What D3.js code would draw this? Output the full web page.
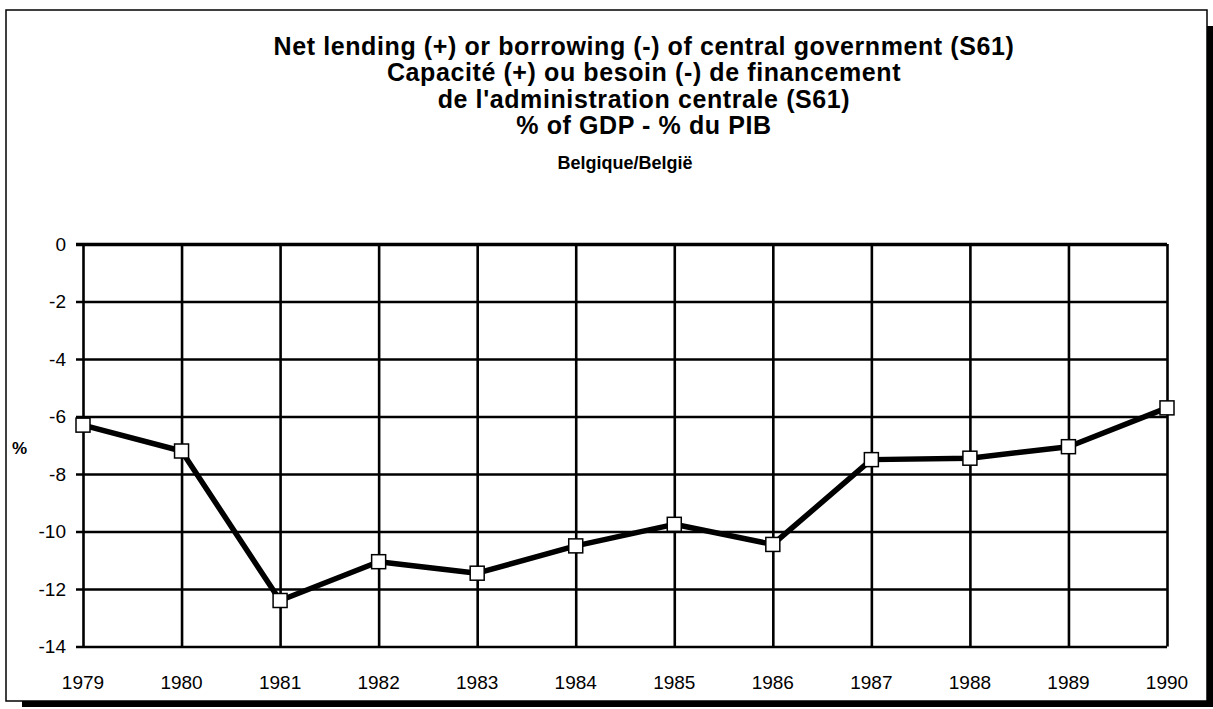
<!DOCTYPE html>
<html>
<head>
<meta charset="utf-8">
<script src="https://cdn.jsdelivr.net/npm/d3@7"></script>
<style>
  body { margin: 0; background: #fff; }
  text { font-family: "Liberation Sans", Arial, sans-serif; fill: #000; }
</style>
</head>
<body>
<div class="chart-container"></div>
<script>
const years = [1979, 1980, 1981, 1982, 1983, 1984, 1985, 1986, 1987, 1988, 1989, 1990];
const values = [-6.3, -7.2, -12.4, -11.05, -11.45, -10.5, -9.75, -10.45, -7.5, -7.45, -7.05, -5.7];
const yTicks = [0, -2, -4, -6, -8, -10, -12, -14];
const titleLines = [
    "Net lending (+) or borrowing (-) of central government (S61)",
    "Capacité (+) ou besoin (-) de financement",
    "de l'administration centrale (S61)",
    "% of GDP - % du PIB"
];
const subtitle = "Belgique/België";

const W = 1213, H = 709;
const plot = { left: 83, right: 1167, top: 244, bottom: 646.5 };

const svg = d3.select('.chart-container')
    .append('svg')
    .attr('width', W)
    .attr('height', H);

// frame with drop shadow
svg.append('rect')
    .attr('x', 22).attr('y', 26)
    .attr('width', 1213 - 22).attr('height', 707 - 26)
    .attr('fill', '#000');
svg.append('rect')
    .attr('x', 6).attr('y', 10)
    .attr('width', 1207 - 6).attr('height', 701 - 10)
    .attr('fill', '#fff')
    .attr('stroke', '#000')
    .attr('stroke-width', 1.5);

// scales
const xScale = d3.scalePoint()
    .domain(years)
    .range([plot.left, plot.right]);

const yScale = d3.scaleLinear()
    .domain([-14, 0])
    .range([plot.bottom, plot.top]);

// horizontal gridlines + ticks on the left
svg.append('g')
    .attr('class', 'grid')
    .attr('transform', `translate(${plot.left}, 0)`)
    .call(d3.axisLeft(yScale)
        .tickValues(yTicks)
        .tickSize(-(plot.right - plot.left))
        .tickFormat(''))
    .call(g => g.select('.domain').remove())
    .call(g => g.selectAll('line')
        .attr('stroke', '#000')
        .attr('stroke-width', d => d === 0 ? 3.5 : 2.4)
        .attr('x2', plot.right - plot.left)
        .attr('x1', -7));

// vertical gridlines
svg.append('g')
    .attr('class', 'grid')
    .attr('transform', `translate(0, ${plot.bottom})`)
    .call(d3.axisBottom(xScale)
        .tickSize(-(plot.bottom - plot.top))
        .tickFormat(''))
    .call(g => g.select('.domain').remove())
    .call(g => g.selectAll('line')
        .attr('stroke', '#000')
        .attr('stroke-width', 2.6));

// y tick labels
svg.append('g')
    .selectAll('text')
    .data(yTicks)
    .enter()
    .append('text')
    .attr('x', 66)
    .attr('y', d => yScale(d))
    .attr('dy', '0.36em')
    .attr('text-anchor', 'end')
    .style('font-size', '19px')
    .text(d => d === 0 ? '0' : '-' + Math.abs(d));

// x tick labels
svg.append('g')
    .selectAll('text')
    .data(years)
    .enter()
    .append('text')
    .attr('x', d => xScale(d))
    .attr('y', 689)
    .attr('text-anchor', 'middle')
    .style('font-size', '19px')
    .text(d => d);

// y unit
svg.append('text')
    .attr('x', 12)
    .attr('y', 454)
    .style('font-size', '17px')
    .style('font-weight', 'bold')
    .text('%');

// series line
const line = d3.line()
    .x((d, i) => xScale(years[i]))
    .y(d => yScale(d));

svg.append('path')
    .datum(values)
    .attr('fill', 'none')
    .attr('stroke', '#000')
    .attr('stroke-width', 5.5)
    .attr('stroke-linejoin', 'round')
    .attr('d', line);

// markers
const mk = 14;
svg.selectAll('.marker')
    .data(values)
    .enter()
    .append('rect')
    .attr('class', 'marker')
    .attr('x', (d, i) => xScale(years[i]) - mk / 2)
    .attr('y', d => yScale(d) - mk / 2)
    .attr('width', mk)
    .attr('height', mk)
    .attr('fill', '#fff')
    .attr('stroke', '#000')
    .attr('stroke-width', 1.5);

// titles
svg.append('g')
    .selectAll('text')
    .data(titleLines)
    .enter()
    .append('text')
    .attr('x', 644)
    .attr('y', (d, i) => 55 + i * 26.3)
    .attr('text-anchor', 'middle')
    .style('font-size', '25px')
    .style('font-weight', 'bold')
    .style('letter-spacing', '0.6px')
    .text(d => d);

svg.append('text')
    .attr('x', 625)
    .attr('y', 169)
    .attr('text-anchor', 'middle')
    .style('font-size', '18px')
    .style('font-weight', 'bold')
    .text(subtitle);
</script>
</body>
</html>
